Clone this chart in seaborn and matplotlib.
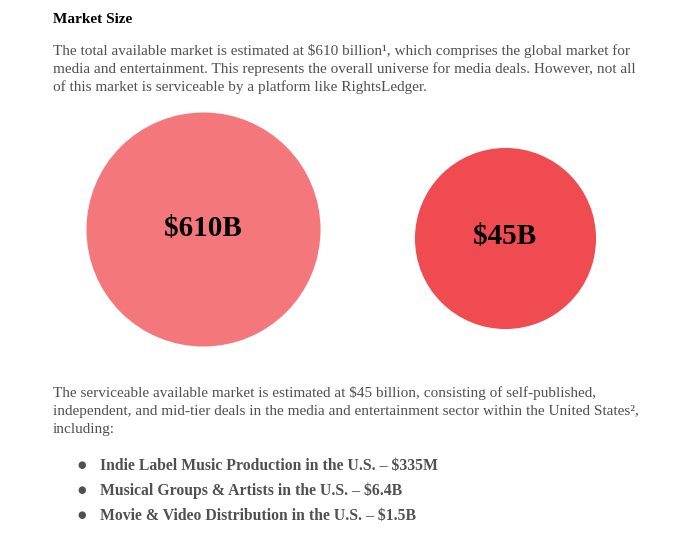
import matplotlib
matplotlib.use("Agg")
import matplotlib.pyplot as plt
import seaborn as sns
import pandas as pd

# ---- data ----
market_labels = ["$610B", "$45B"]
market_values = [610, 45]
market_names = ["Total available market", "Serviceable available market"]
circle_colors = ["#F4787B", "#EF4B50"]

title_text = "Market Size"
para1_lines = [
    "The total available market is estimated at $610 billion\u00b9, which comprises the global market for",
    "media and entertainment. This represents the overall universe for media deals. However, not all",
    "of this market is serviceable by a platform like RightsLedger.",
]
para2_lines = [
    "The serviceable available market is estimated at $45 billion, consisting of self-published,",
    "independent, and mid-tier deals in the media and entertainment sector within the United States\u00b2,",
    "including:",
]
bullet_items = [
    "Indie Label Music Production in the U.S. \u2013 $335M",
    "Musical Groups & Artists in the U.S. \u2013 $6.4B",
    "Movie & Video Distribution in the U.S. \u2013 $1.5B",
]

df = pd.DataFrame({"label": market_labels, "value": market_values,
                   "name": market_names, "row": [0, 0]})

sns.set_theme(style="white")
plt.rcParams["font.family"] = ["Liberation Serif", "DejaVu Serif"]

W, H = 696, 552
fig = plt.figure(figsize=(W / 100, H / 100), dpi=100)

def fx(px):
    return px / W

def fy(py):
    return 1 - py / H

# layout of the two circles (pixel centres / marker areas)
x_centres = [203, 505]
y_centres = [229, 238]
marker_area = [28400, 17000]
unit = x_centres[1] - x_centres[0]

for i, lab in enumerate(market_labels):
    ax = fig.add_axes([0, 0, 1, 1])
    ax.set_axis_off()
    ax.patch.set_alpha(0)
    sub = df[df["label"] == lab]
    sns.scatterplot(data=sub, x="label", y="row", hue="label", size="label",
                    sizes={lab: marker_area[i]},
                    palette={lab: circle_colors[i]},
                    linewidth=0, legend=False, ax=ax, alpha=1)
    ax.set_xlim(-x_centres[0] / unit - i, (W - x_centres[0]) / unit - i)
    cy = y_centres[i]
    ax.set_ylim(-(H - cy) / 100, cy / 100)
    ax.text(0, 0.01, lab, ha="center", va="center", fontsize=21,
            fontweight="bold", color="black")

body_color = "#505050"
left = 53
fig.text(fx(left), fy(23), title_text, fontsize=11, fontweight="bold",
         color="black", va="baseline", ha="left")
for k, line in enumerate(para1_lines):
    fig.text(fx(left), fy(55 + 18 * k), line, fontsize=11, color=body_color,
             va="baseline", ha="left")
for k, line in enumerate(para2_lines):
    fig.text(fx(left), fy(397 + 18 * k), line, fontsize=11, color=body_color,
             va="baseline", ha="left")
for k, item in enumerate(bullet_items):
    fig.text(fx(77), fy(468 + 25 * k), "\u25cf", fontsize=7, color=body_color,
             va="baseline", ha="left", family=["DejaVu Sans"])
    fig.text(fx(100), fy(470 + 25 * k), item, fontsize=11.3, fontweight="bold",
             color=body_color, va="baseline", ha="left")

fig.savefig("out.png", dpi=100)
